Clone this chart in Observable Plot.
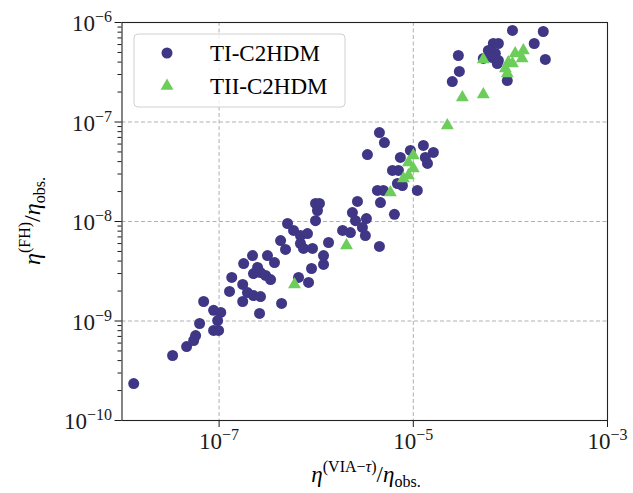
<!DOCTYPE html>
<html><head><meta charset="utf-8">
<script src="https://cdn.jsdelivr.net/npm/d3@7"></script>
<script src="https://cdn.jsdelivr.net/npm/@observablehq/plot@0.6"></script>
<style>body{margin:0;background:#fff;} #chart svg{display:block;}</style>
</head><body><div id="chart"></div>
<script>
const seriesNames = ["TI-C2HDM", "TII-C2HDM"];
const seriesColors = ["#3f3785", "#6ccd5a"];

const tiX = [1.32e-8,3.32e-8,4.63e-8,5.47e-8,5.73e-8,6.30e-8,6.93e-8,8.78e-8,1.04e-7,9.66e-8,8.78e-8,9.88e-8,
  1.28e-7,1.35e-7,1.79e-7,1.75e-7,1.75e-7,1.96e-7,2.26e-7,2.67e-7,2.61e-7,4.40e-7,2.49e-7,2.26e-7,2.67e-7,3.01e-7,
  3.39e-7,3.72e-7,6.58e-7,8.34e-7,8.95e-7,1.19e-6,2.21e-7,3.15e-7,4.30e-7,5.07e-7,5.84e-7,6.89e-7,8.13e-7,4.83e-7,
  6.89e-7,7.40e-7,9.16e-7,9.84e-7,1.08e-6,1.03e-6,9.84e-7,1.34e-6,1.19e-6,1.87e-6,2.25e-6,2.66e-6,2.36e-6,2.54e-6,
  3.29e-6,2.99e-6,3.21e-6,4.48e-6,4.48e-6,5.04e-6,3.37e-6,6.39e-6,4.27e-6,4.59e-6,4.92e-6,7.36e-6,7.03e-6,6.10e-6,
  6.86e-6,9.33e-6,1.27e-5,1.61e-5,1.33e-5,1.40e-5,7.73e-6,1.10e-5,
  2.91e-5,2.98e-5,2.52e-5,9.29e-5,1.05e-4,2.18e-4,1.76e-4,2.29e-4,6.67e-5,7.52e-5,5.93e-5,7.00e-5,7.52e-5,6.52e-5,7.33e-5,5.26e-5];
const tiY = [2.35e-10,4.50e-10,5.54e-10,6.37e-10,7.14e-10,9.44e-10,1.57e-9,1.28e-9,1.22e-9,1.01e-9,8.04e-10,8.04e-10,
  1.98e-9,2.74e-9,3.78e-9,2.33e-9,1.57e-9,1.93e-9,1.80e-9,1.76e-9,1.19e-9,1.50e-9,3.45e-9,3.00e-9,3.07e-9,2.87e-9,
  2.61e-9,3.87e-9,2.74e-9,2.44e-9,3.37e-9,3.70e-9,4.55e-9,4.55e-9,6.44e-9,9.55e-9,8.13e-9,7.23e-9,7.57e-9,5.24e-9,
  6.01e-9,5.36e-9,5.36e-9,1.52e-8,1.52e-8,1.29e-8,1.02e-8,6.15e-9,4.55e-9,8.13e-9,7.75e-9,1.59e-8,1.23e-8,1.02e-8,
  1.07e-8,8.71e-9,7.23e-9,5.61e-9,7.84e-8,6.22e-8,4.71e-8,1.18e-8,2.05e-8,1.55e-8,2.05e-8,4.40e-8,3.26e-8,3.26e-8,
  2.41e-8,5.18e-8,5.81e-8,4.94e-8,4.40e-8,3.83e-8,2.30e-8,2.05e-8,
  4.66e-7,3.22e-7,2.55e-7,2.61e-7,8.32e-7,8.12e-7,6.15e-7,4.25e-7,6.15e-7,6.15e-7,5.23e-7,4.88e-7,4.15e-7,4.45e-7,3.87e-7,4.35e-7];

const tiiX = [5.98e-7,2.05e-6,5.81e-6,7.91e-6,8.91e-6,8.91e-6,1.00e-5,1.00e-5,2.24e-5,3.20e-5,5.26e-5,5.26e-5,
  8.87e-5,9.29e-5,9.51e-5,1.05e-4,1.12e-4,1.32e-4,1.36e-4];
const tiiY = [2.33e-9,5.74e-9,1.95e-8,2.70e-8,2.90e-8,3.92e-8,4.61e-8,3.41e-8,9.23e-8,1.76e-7,1.89e-7,4.25e-7,
  3.45e-7,3.07e-7,3.96e-7,3.87e-7,4.88e-7,4.35e-7,5.23e-7];

const xTicks = [1e-7, 1e-5, 1e-3];
const yTicks = [1e-10, 1e-9, 1e-8, 1e-7, 1e-6];
const xGrid = [1e-7, 1e-5];
const yGrid = [1e-9, 1e-8, 1e-7];

const yMinor = [];
for (let e = -10; e < -6; e++) for (let k = 2; k <= 9; k++) yMinor.push(k * Math.pow(10, e));

const ti = tiX.map((x, i) => ({x, y: tiY[i]}));
const tii = tiiX.map((x, i) => ({x, y: tiiY[i]}));

const FONT = "'Liberation Serif', 'DejaVu Serif', serif";
const expFmt = d => "e" + Math.round(Math.log10(d));

const plot = Plot.plot({
  width: 633, height: 493,
  marginLeft: 121.5, marginRight: 26, marginTop: 22, marginBottom: 73,
  style: {fontFamily: FONT, fontSize: "23px", color: "#1a1a1a", background: "#fff"},
  x: {type: "log", domain: [1e-8, 1e-3]},
  y: {type: "log", domain: [1e-10, 1e-6]},
  marks: [
    Plot.gridX(xGrid, {stroke: "#b0b0b0", strokeOpacity: 1, strokeWidth: 1, strokeDasharray: "4,2.5"}),
    Plot.gridY(yGrid, {stroke: "#b0b0b0", strokeOpacity: 1, strokeWidth: 1, strokeDasharray: "4,2.5"}),
    Plot.axisY(yMinor, {tickSize: 4, tickFormat: () => "", label: null}),
    Plot.axisY(yTicks, {tickSize: 7, tickPadding: 3, tickFormat: expFmt, label: null}),
    Plot.axisX(xTicks, {tickSize: 7, tickPadding: 4, tickFormat: expFmt, label: null}),
    Plot.dot(ti, {x: "x", y: "y", r: 5.5, fill: seriesColors[0], symbol: "circle"}),
    Plot.dot(tii, {x: "x", y: "y", r: 4.8, fill: seriesColors[1], symbol: "triangle"}),
    Plot.frame({stroke: "#222", strokeWidth: 1.1})
  ]
});
document.getElementById("chart").appendChild(plot);

const svg = d3.select(plot);

// superscript tick labels
function superscript(sel, baseDy) {
  sel.each(function () {
    const s = this.textContent || "";
    if (s[0] !== "e") return;
    const t = d3.select(this);
    const e = s.slice(1).replace("-", "\u2212");
    t.text(null);
    t.append("tspan").attr("dy", baseDy).text("10");
    t.append("tspan").attr("dy", "-0.55em").attr("font-size", "16px").text(e);
  });
}
superscript(svg.selectAll('g[aria-label="y-axis tick label"] text'), "0.06em");
superscript(svg.selectAll('g[aria-label="x-axis tick label"] text'), "0.06em");

// axis labels
const xl = svg.append("text").attr("x", 366).attr("y", 482).attr("text-anchor", "middle")
  .attr("font-family", FONT).attr("font-size", 23).attr("fill", "#000");
xl.append("tspan").attr("font-style", "italic").text("η");
xl.append("tspan").attr("font-size", 16).attr("dy", -10).text("(VIA\u2212");
xl.append("tspan").attr("font-size", 16).attr("font-style", "italic").text("τ");
xl.append("tspan").attr("font-size", 16).text(")");
xl.append("tspan").attr("dy", 10).text("/");
xl.append("tspan").attr("font-style", "italic").text("η");
xl.append("tspan").attr("font-size", 16).attr("dy", 5).text("obs.");

const yl = svg.append("text").attr("transform", "translate(40,221) rotate(-90)").attr("text-anchor", "middle")
  .attr("font-family", FONT).attr("font-size", 24).attr("fill", "#000");
yl.append("tspan").attr("font-style", "italic").text("η");
yl.append("tspan").attr("font-size", 16).attr("dy", -10).text("(FH)");
yl.append("tspan").attr("dy", 10).text("/");
yl.append("tspan").attr("font-style", "italic").text("η");
yl.append("tspan").attr("font-size", 16).attr("dy", 5).text("obs.");

// legend
const lg = svg.append("g").attr("transform", "translate(134,34)");
lg.append("rect").attr("width", 211).attr("height", 73).attr("rx", 4)
  .attr("fill", "#fff").attr("fill-opacity", 0.8).attr("stroke", "#d0d0d0").attr("stroke-width", 1);
const symbols = [d3.symbolCircle, d3.symbolTriangle];
const sizes = [Math.PI * 5.5 * 5.5, Math.PI * 4.8 * 4.8];
seriesNames.forEach((name, i) => {
  const cy = 19 + i * 33;
  lg.append("path").attr("transform", `translate(33,${cy})`)
    .attr("d", d3.symbol(symbols[i], sizes[i])()).attr("fill", seriesColors[i]);
  lg.append("text").attr("x", 76).attr("y", cy + 8).attr("text-anchor", "start").attr("font-family", FONT)
    .attr("font-size", 23).attr("fill", "#000").text(name);
});
</script>
</body></html>
